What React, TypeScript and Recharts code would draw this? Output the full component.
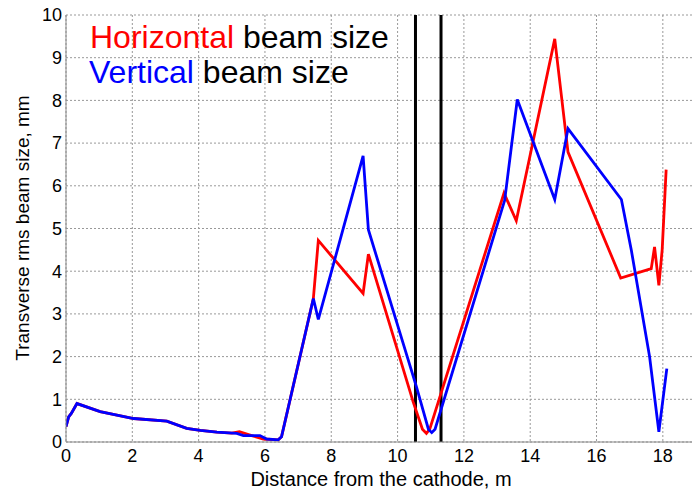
import React from "react";
import { LineChart, Line, XAxis, YAxis, CartesianGrid, ReferenceLine } from "recharts";

// Horizontal (x) rms beam size along the beamline
const hPos = [0, 0.08, 0.16, 0.33, 1.03, 2.04, 3.04, 3.64, 4.05, 4.55, 5.0, 5.23, 5.6, 5.95, 6.4, 6.5, 7.46, 7.61, 8.96, 9.12, 10.47, 10.75, 10.87, 10.97, 13.21, 13.58, 14.74, 15.14, 16.73, 17.65, 17.75, 17.88, 17.98, 18.1];
const hSize = [0.36, 0.59, 0.67, 0.9, 0.71, 0.55, 0.49, 0.32, 0.27, 0.23, 0.21, 0.24, 0.15, 0.07, 0.05, 0.12, 3.36, 4.72, 3.48, 4.4, 0.94, 0.3, 0.2, 0.3, 5.83, 5.18, 9.44, 6.79, 3.84, 4.06, 4.57, 3.67, 4.5, 6.38];

// Vertical (y) rms beam size along the beamline
const vPos = [0, 0.08, 0.16, 0.33, 1.03, 2.04, 3.04, 3.64, 4.05, 4.55, 5.15, 5.35, 5.85, 6.05, 6.4, 6.5, 7.46, 7.61, 8.96, 9.12, 10.57, 10.93, 11.03, 11.13, 13.23, 13.61, 14.74, 15.14, 16.75, 17.05, 17.6, 17.88, 18.12];
const vSize = [0.36, 0.59, 0.67, 0.9, 0.71, 0.55, 0.49, 0.32, 0.27, 0.23, 0.2, 0.15, 0.15, 0.07, 0.05, 0.12, 3.36, 2.87, 6.7, 4.97, 1.29, 0.3, 0.22, 0.3, 5.66, 8.02, 5.68, 7.34, 5.68, 4.49, 2.0, 0.24, 1.72];

// Element boundaries marked with vertical lines
const markers = [10.54, 11.31];

const xTicks = [0, 2, 4, 6, 8, 10, 12, 14, 16, 18];
const yTicks = [0, 1, 2, 3, 4, 5, 6, 7, 8, 9, 10];

const hData = hPos.map((x, i) => ({ x, y: hSize[i] }));
const vData = vPos.map((x, i) => ({ x, y: vSize[i] }));

const FONT = "'Liberation Sans', Arial, sans-serif";

export default function App() {
  return (
    <div
      style={{
        position: "absolute",
        left: 0,
        top: 0,
        width: 692,
        height: 491,
        overflow: "hidden",
        background: "#fff",
        fontFamily: FONT,
      }}
    >
      <LineChart width={700} height={491} margin={{ top: 15, right: 4, bottom: 0, left: 0 }}>
        <CartesianGrid stroke="#999" strokeDasharray="2 2" horizontalValues={yTicks} verticalValues={xTicks} />
        <XAxis
          type="number"
          dataKey="x"
          domain={[0, 19]}
          ticks={xTicks}
          allowDataOverflow
          height={49}
          tickLine={false}
          tickSize={0}
          tickMargin={7}
          stroke="#888"
          tick={{ fill: "#000", fontSize: 18, fontFamily: FONT }}
        />
        <YAxis
          type="number"
          domain={[0, 10]}
          ticks={yTicks}
          width={66}
          tickLine={false}
          tickSize={0}
          tickMargin={4}
          stroke="#888"
          tick={{ fill: "#000", fontSize: 18, fontFamily: FONT }}
        />
        {markers.map((m) => (
          <ReferenceLine key={m} x={m} stroke="#000" strokeWidth={3} />
        ))}
        <Line data={hData} dataKey="y" type="linear" stroke="#ff0000" strokeWidth={2.8} dot={false} isAnimationActive={false} />
        <Line data={vData} dataKey="y" type="linear" stroke="#0000ff" strokeWidth={2.8} dot={false} isAnimationActive={false} />
      </LineChart>

      <div style={{ position: "absolute", left: 90, top: 21, fontSize: 32, lineHeight: "32px", whiteSpace: "nowrap" }}>
        <span style={{ color: "#ff0000" }}>Horizontal</span> <span style={{ color: "#000" }}>beam size</span>
      </div>
      <div style={{ position: "absolute", left: 89, top: 56, fontSize: 32, lineHeight: "32px", whiteSpace: "nowrap" }}>
        <span style={{ color: "#0000ff" }}>Vertical</span> <span style={{ color: "#000" }}>beam size</span>
      </div>

      <div
        style={{
          position: "absolute",
          left: 381,
          top: 469,
          transform: "translateX(-50%)",
          fontSize: 20,
          lineHeight: "20px",
          whiteSpace: "nowrap",
          color: "#000",
        }}
      >
        Distance from the cathode, m
      </div>
      <div
        style={{
          position: "absolute",
          left: 22,
          top: 228,
          transform: "translate(-50%, -50%) rotate(-90deg)",
          fontSize: 19,
          lineHeight: "19px",
          whiteSpace: "nowrap",
          color: "#000",
        }}
      >
        Transverse rms beam size, mm
      </div>
    </div>
  );
}
